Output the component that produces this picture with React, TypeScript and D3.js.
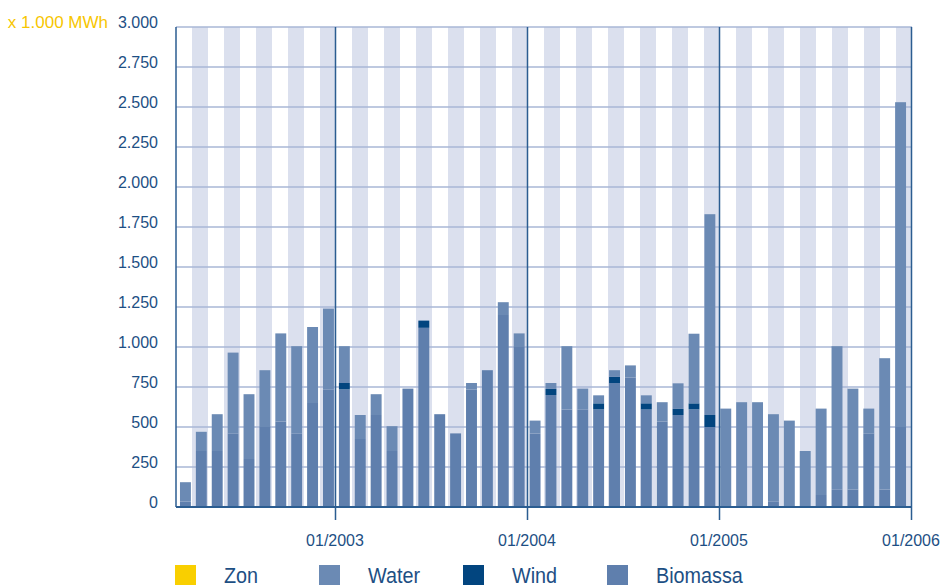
import React, { useEffect, useRef } from "react";
import * as d3 from "d3";

// maanden 03/2002 t/m 12/2005
const months: string[] = [];
for (let y = 2002; y <= 2005; y++) {
  for (let m = y === 2002 ? 3 : 1; m <= 12; m++) {
    months.push(`${String(m).padStart(2, "0")}/${y}`);
  }
}

const biomassa = [
  35, 350, 350, 460, 300, 500, 535, 460, 650, 735,
  735, 425, 575, 350, 740, 1120, 580, 460, 735, 855, 1200, 1000,
  460, 700, 610, 610, 610, 775, 810, 610, 535, 575, 610, 500,
  0, 0, 0, 35, 0, 0, 75, 110, 110, 460, 110, 500,
];
const wind = [
  0, 0, 0, 0, 0, 0, 0, 0, 0, 0,
  40, 0, 0, 0, 0, 45, 0, 0, 0, 0, 0, 0,
  0, 38, 0, 0, 38, 38, 0, 38, 0, 38, 38, 75,
  0, 0, 0, 0, 0, 0, 0, 0, 0, 0, 0, 0,
];
const water = [
  120, 120, 230, 505, 405, 355, 550, 545, 475, 505,
  230, 150, 130, 155, 0, 0, 0, 0, 40, 0, 80, 85,
  80, 37, 395, 130, 50, 42, 75, 50, 120, 160, 435, 1255,
  615, 655, 655, 545, 540, 350, 540, 895, 630, 155, 820, 2030,
];
const zon = months.map(() => 0);

const yTicks = [0, 250, 500, 750, 1000, 1250, 1500, 1750, 2000, 2250, 2500, 2750, 3000];
const yearTicks = ["01/2003", "01/2004", "01/2005", "01/2006"];

const legendItems = [
  { key: "zon", label: "Zon", color: "#f9cf00" },
  { key: "water", label: "Water", color: "#6b8ab4" },
  { key: "wind", label: "Wind", color: "#02457f" },
  { key: "biomassa", label: "Biomassa", color: "#5f7fad" },
];

const App = () => {
  const ref = useRef<SVGSVGElement>(null);

  useEffect(() => {
    const svg = d3.select(ref.current);
    svg.selectAll("*").remove();

    const width = 941;
    const height = 588;
    const left = 176;
    const right = 912;
    const top = 27;
    const bottom = 507;
    const textColor = "#1d4f84";
    const axisColor = "#2b5d91";

    const rows = months.map((m, i) => ({
      month: m,
      biomassa: biomassa[i],
      wind: wind[i],
      water: water[i],
      zon: zon[i],
    }));
    const keys = ["biomassa", "wind", "water", "zon"];
    const color = d3
      .scaleOrdinal<string>()
      .domain(legendItems.map((d) => d.key))
      .range(legendItems.map((d) => d.color));

    const slot = d3.scaleBand().domain(months).range([left, right]).padding(0);
    const x = d3
      .scaleBand()
      .domain(months)
      .range([left, right])
      .paddingInner(0.3125)
      .paddingOuter(0.3125)
      .align(0.4);
    const xi = d3.scaleLinear().domain([0, months.length]).range([left, right]);
    const y = d3.scaleLinear().domain([0, 3000]).range([bottom, top]);

    svg.attr("width", width).attr("height", height);

    // achtergrondstroken
    svg
      .append("g")
      .selectAll("rect")
      .data(months.filter((_, i) => i % 2 === 1))
      .join("rect")
      .attr("x", (d) => slot(d)!)
      .attr("y", top)
      .attr("width", slot.bandwidth())
      .attr("height", bottom - top)
      .attr("fill", "#dbe0ee");

    // rasterlijnen
    svg
      .append("g")
      .selectAll("line")
      .data(yTicks.filter((t) => t > 0))
      .join("line")
      .attr("x1", left)
      .attr("x2", right)
      .attr("y1", (d) => y(d))
      .attr("y2", (d) => y(d))
      .attr("stroke", "#a8b7d6")
      .attr("stroke-width", 1.5);

    // gestapelde staven
    const series = d3.stack<any>().keys(keys)(rows);
    svg
      .append("g")
      .selectAll("g")
      .data(series)
      .join("g")
      .attr("fill", (s) => color(s.key))
      .selectAll("rect")
      .data((s) => s)
      .join("rect")
      .attr("x", (d) => x(d.data.month)!)
      .attr("y", (d) => y(d[1]))
      .attr("width", x.bandwidth())
      .attr("height", (d) => y(d[0]) - y(d[1]));

    // y-as labels
    svg
      .append("g")
      .selectAll("text")
      .data(yTicks)
      .join("text")
      .attr("x", 158)
      .attr("y", (d) => y(d) + 0.5)
      .attr("text-anchor", "end")
      .attr("fill", textColor)
      .style("font-family", "'Liberation Sans', Arial, sans-serif")
      .style("font-size", "16px")
      .text((d) => d3.format(",")(d).replace(/,/g, "."));

    svg
      .append("text")
      .attr("x", 108)
      .attr("y", 27.5)
      .attr("text-anchor", "end")
      .attr("fill", "#f7c600")
      .style("font-family", "'Liberation Sans', Arial, sans-serif")
      .style("font-size", "17px")
      .text("x 1.000 MWh");

    // assen
    svg
      .append("line")
      .attr("x1", left)
      .attr("x2", left)
      .attr("y1", top)
      .attr("y2", bottom)
      .attr("stroke", axisColor)
      .attr("stroke-width", 1.5);
    svg
      .append("line")
      .attr("x1", left)
      .attr("x2", right)
      .attr("y1", bottom)
      .attr("y2", bottom)
      .attr("stroke", axisColor)
      .attr("stroke-width", 2);

    // jaarlijnen
    const yearIdx = yearTicks.map((t) => {
      const i = months.indexOf(t);
      return i < 0 ? months.length : i;
    });
    const years = svg.append("g");
    years
      .selectAll("line")
      .data(yearIdx)
      .join("line")
      .attr("x1", (d) => xi(d) - 0.5)
      .attr("x2", (d) => xi(d) - 0.5)
      .attr("y1", top)
      .attr("y2", 520)
      .attr("stroke", axisColor)
      .attr("stroke-width", 1.5);
    years
      .selectAll("text")
      .data(yearIdx)
      .join("text")
      .attr("x", (d) => xi(d) - 1)
      .attr("y", 546)
      .attr("text-anchor", "middle")
      .attr("fill", textColor)
      .style("font-family", "'Liberation Sans', Arial, sans-serif")
      .style("font-size", "16px")
      .text((_, i) => yearTicks[i]);

    // legenda
    const legend = svg
      .append("g")
      .selectAll("g")
      .data(legendItems)
      .join("g")
      .attr("transform", (d, i) => `translate(${175 + i * 144},565)`);
    legend
      .append("rect")
      .attr("width", 21)
      .attr("height", 20)
      .attr("fill", (d) => d.color);
    legend
      .append("text")
      .attr("transform", "translate(49,18) scale(0.9,1)")
      .attr("fill", textColor)
      .style("font-family", "'Liberation Sans', Arial, sans-serif")
      .style("font-size", "22px")
      .text((d) => d.label);
  }, []);

  return (
    <div>
      <svg ref={ref} style={{ position: "absolute", left: 0, top: 0 }} />
    </div>
  );
};

export default App;
